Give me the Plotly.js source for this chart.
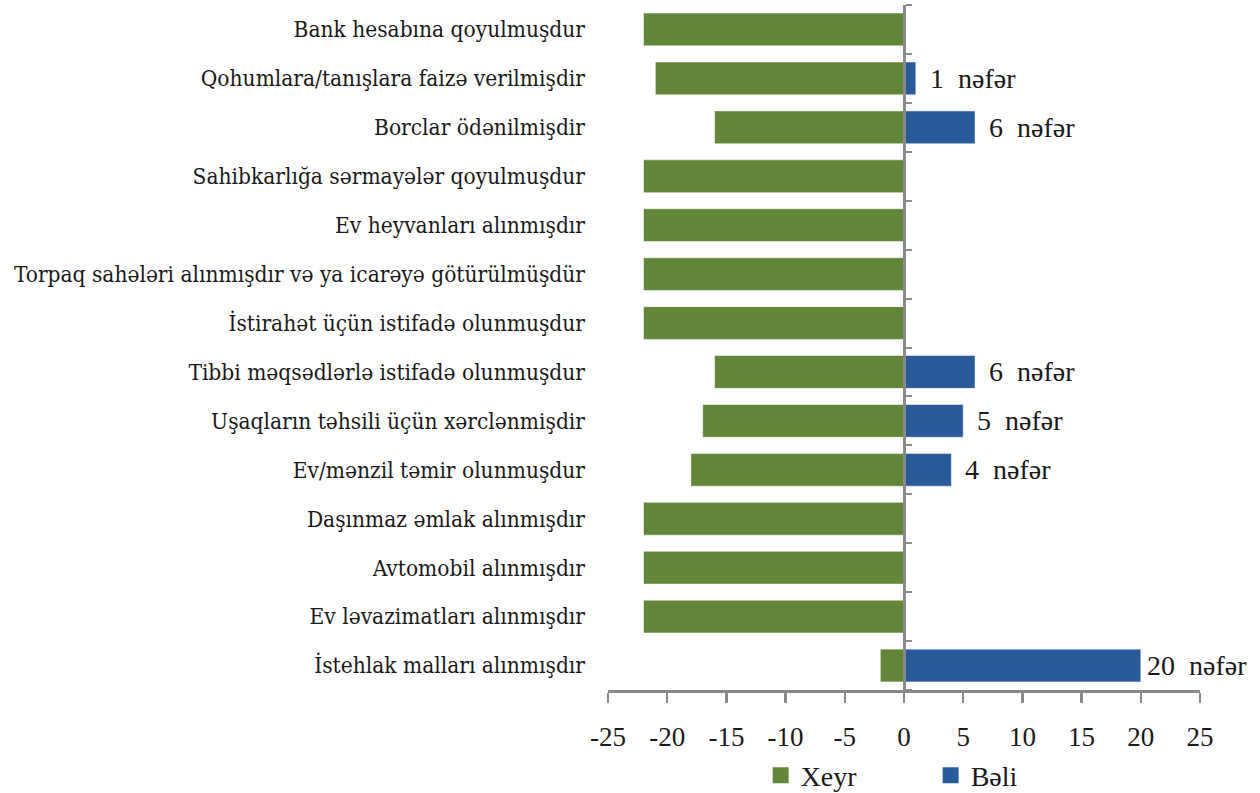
<!DOCTYPE html>
<html>
<head>
<meta charset="utf-8">
<script src="https://cdn.plot.ly/plotly-3.0.1.min.js"></script>
<style>html,body{margin:0;padding:0;background:#fff;}#chart{width:1260px;height:793px;}</style>
</head>
<body>
<div id="chart"></div>
<script>
const categories = [
  "Bank hesabına qoyulmuşdur",
  "Qohumlara/tanışlara faizə verilmişdir",
  "Borclar ödənilmişdir",
  "Sahibkarlığa sərmayələr qoyulmuşdur",
  "Ev heyvanları alınmışdır",
  "Torpaq sahələri alınmışdır və ya icarəyə götürülmüşdür",
  "İstirahət üçün istifadə olunmuşdur",
  "Tibbi məqsədlərlə istifadə olunmuşdur",
  "Uşaqların təhsili üçün xərclənmişdir",
  "Ev/mənzil təmir olunmuşdur",
  "Daşınmaz əmlak alınmışdır",
  "Avtomobil alınmışdır",
  "Ev ləvazimatları alınmışdır",
  "İstehlak malları alınmışdır"
];
const xeyrValues = [-22, -21, -16, -22, -22, -22, -22, -16, -17, -18, -22, -22, -22, -2];
const beliValues = [0, 1, 6, 0, 0, 0, 0, 6, 5, 4, 0, 0, 0, 20];
const unitLabel = "nəfər";
const xTicks = [-25, -20, -15, -10, -5, 0, 5, 10, 15, 20, 25];

const FONT = "Liberation Serif";
const CATFONT = "DejaVu Serif Condensed";
const GRAY = "#8a8a8a";
const GREEN = "#62863a";
const BLUE = "#2a5a9a";
const n = categories.length;

const traces = [
  {
    type: "bar", orientation: "h", name: "Xeyr", showlegend: false,
    y: categories, x: xeyrValues,
    marker: {color: GREEN, line: {color: "#ffffff", width: 0.5}},
    hoverinfo: "x+y"
  },
  {
    type: "bar", orientation: "h", name: "Bəli", showlegend: false,
    y: categories, x: beliValues,
    marker: {color: BLUE, line: {color: "#ffffff", width: 0.5}},
    hoverinfo: "x+y"
  },
  {
    type: "scatter", x: [0], y: [0], yaxis: "y2", mode: "markers",
    marker: {opacity: 0}, showlegend: false, hoverinfo: "skip"
  },
  {
    type: "scatter", name: "Xeyr", x: [null], y: [null], mode: "markers",
    marker: {symbol: "square", size: 20, color: GREEN}, showlegend: true
  },
  {
    type: "scatter", name: "Bəli", x: [null], y: [null], mode: "markers",
    marker: {symbol: "square", size: 20, color: BLUE}, showlegend: true
  }
];

const annotations = [];
categories.forEach((c, i) => {
  if (beliValues[i] > 0) {
    annotations.push({
      x: beliValues[i], y: c, xref: "x", yref: "y",
      text: beliValues[i] + "  " + unitLabel,
      showarrow: false, xanchor: "left", yanchor: "middle",
      xshift: beliValues[i] >= 10 ? 4 : 12,
      font: {family: FONT, size: 28, color: "#1a1a1a"}
    });
  }
});

const tickPos = [];
for (let i = 0; i <= n; i++) tickPos.push(i - 0.5);

const layout = {
  width: 1260, height: 793,
  margin: {l: 608, r: 60, t: 5, b: 103},
  paper_bgcolor: "#ffffff", plot_bgcolor: "#ffffff",
  barmode: "relative", bargap: 0.33,
  showlegend: true,
  legend: {
    orientation: "h", x: 0.545, xanchor: "center", xref: "paper",
    y: 0.022, yanchor: "middle", yref: "container",
    font: {family: FONT, size: 28, color: "#1a1a1a"},
    entrywidth: 125, traceorder: "normal"
  },
  xaxis: {
    range: [-25, 25], tickmode: "array", tickvals: xTicks,
    ticktext: xTicks.map(String),
    showgrid: false, zeroline: false,
    showline: true, linecolor: GRAY, linewidth: 2.5,
    ticks: "outside", ticklen: 10, tickwidth: 2.5, tickcolor: GRAY,
    tickfont: {family: FONT, size: 27, color: "#1a1a1a"},
    ticklabelstandoff: 11
  },
  yaxis: {
    type: "category", range: [n - 0.5, -0.5],
    showgrid: false, zeroline: false, showline: false, ticks: "",
    tickfont: {family: CATFONT, size: 22.5, color: "#1a1a1a"},
    ticklabelstandoff: 22
  },
  yaxis2: {
    overlaying: "y", anchor: "free", position: 0.5, side: "right",
    range: [n - 0.5, -0.5], tickmode: "array", tickvals: tickPos,
    showticklabels: false, showgrid: false, zeroline: false,
    showline: true, linecolor: GRAY, linewidth: 2.5,
    ticks: "outside", ticklen: 6, tickwidth: 2, tickcolor: GRAY
  },
  annotations: annotations
};

Plotly.newPlot("chart", traces, layout, {displayModeBar: false, staticPlot: true});
</script>
</body>
</html>
